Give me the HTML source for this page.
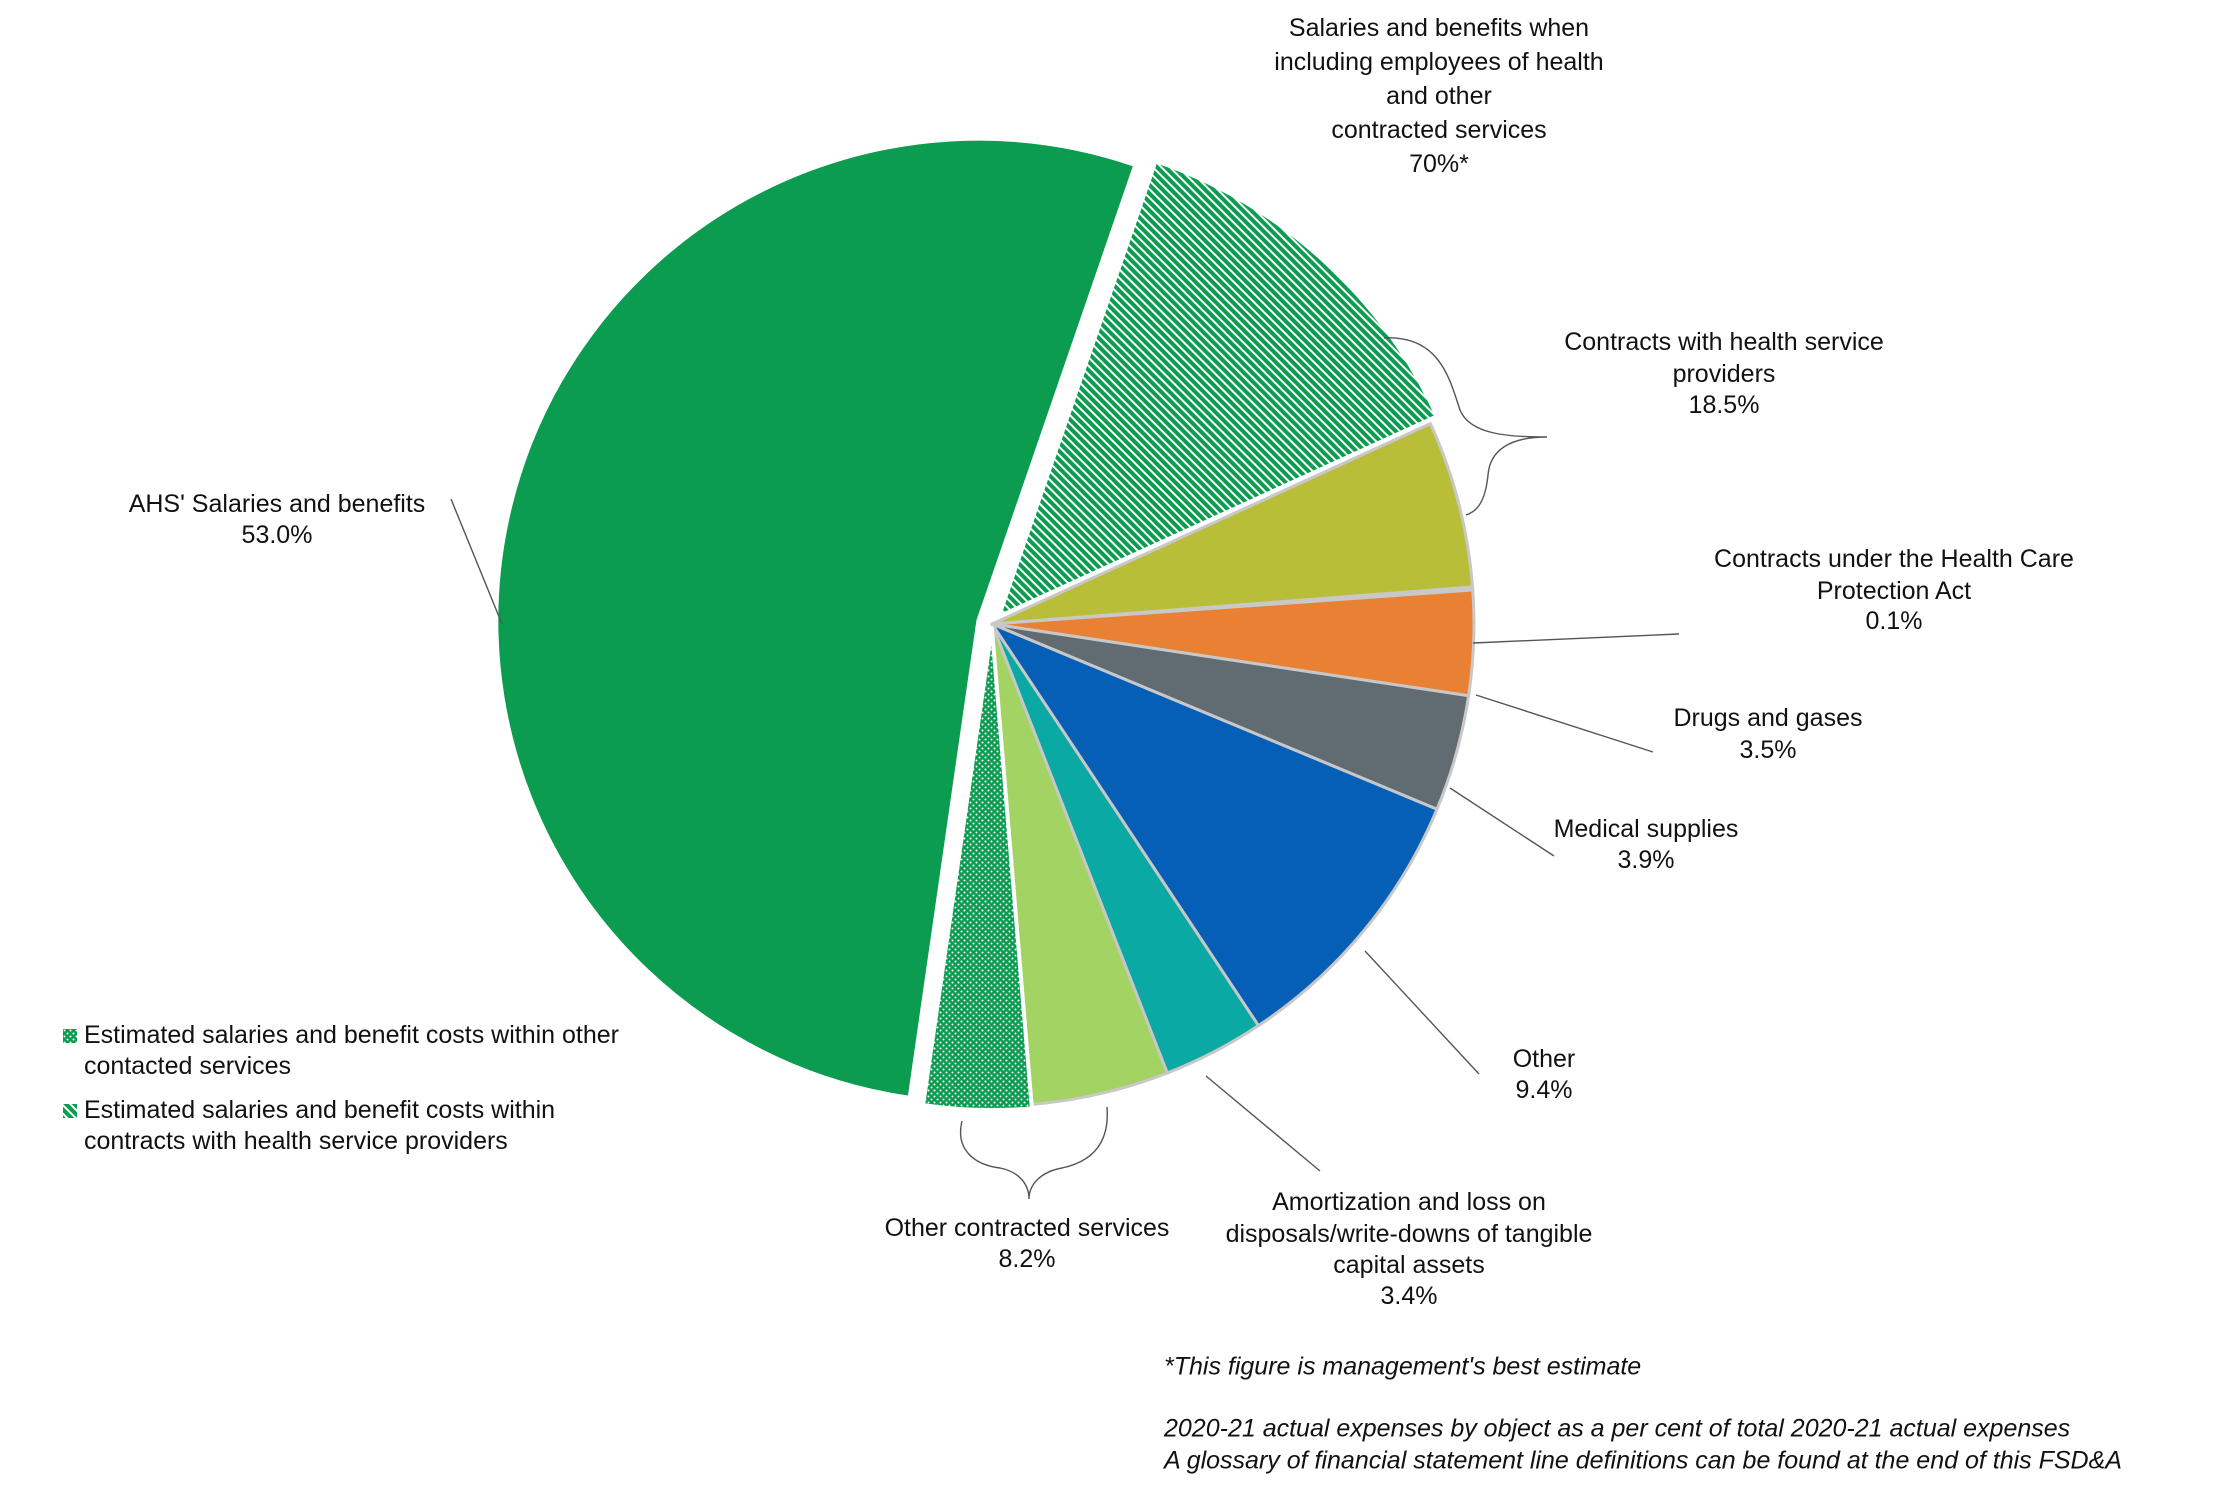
<!DOCTYPE html>
<html><head><meta charset="utf-8"><style>
body{margin:0;background:#fff;}
svg{display:block;font-family:"Liberation Sans",Arial,sans-serif;}
</style></head><body>
<svg id="chart" width="2214" height="1499" viewBox="0 0 2214 1499" xmlns="http://www.w3.org/2000/svg">
<defs>
<pattern id="hatch" patternUnits="userSpaceOnUse" width="6" height="6" patternTransform="rotate(-45)">
<rect width="6" height="6" fill="#0b9c50"/><rect width="2" height="6" fill="#ffffff"/>
</pattern>
<pattern id="dots" patternUnits="userSpaceOnUse" width="6" height="6">
<rect width="6" height="6" fill="#0b9c50"/><circle cx="1.5" cy="1.5" r="1" fill="#fff"/><circle cx="4.5" cy="4.5" r="1" fill="#fff"/>
</pattern>
</defs>
<g id="slices"></g>
<g id="annot" fill="none" stroke="#555" stroke-width="1.4">
<line x1="451" y1="499" x2="502" y2="624"/>
<line x1="1679" y1="634" x2="1473" y2="643"/>
<line x1="1653" y1="752" x2="1476" y2="695"/>
<line x1="1554" y1="856" x2="1450" y2="788"/>
<line x1="1479" y1="1074" x2="1365" y2="951"/>
<line x1="1320" y1="1171" x2="1206" y2="1076"/>
<path d="M1384,338 C1440,335 1450,380 1460,410 C1470,435 1510,437 1547,437 C1510,437 1490,450 1488,475 C1485,505 1475,512 1466,515"/>
<path d="M962,1121 C955,1150 975,1165 1000,1168 C1020,1172 1029,1185 1029,1199 C1029,1185 1040,1172 1062,1168 C1090,1162 1110,1145 1107,1107"/>
</g>
<g font-size="25" fill="#111" text-anchor="middle" dominant-baseline="middle">
<text><tspan x="1439" y="29">Salaries and benefits when</tspan><tspan x="1439" y="63">including employees of health</tspan><tspan x="1439" y="97">and other</tspan><tspan x="1439" y="131">contracted services</tspan><tspan x="1439" y="165">70%*</tspan></text>
<text><tspan x="1724" y="343">Contracts with  health service</tspan><tspan x="1724" y="375">providers</tspan><tspan x="1724" y="406">18.5%</tspan></text>
<text><tspan x="1894" y="560">Contracts under the Health Care</tspan><tspan x="1894" y="592">Protection Act</tspan><tspan x="1894" y="622">0.1%</tspan></text>
<text><tspan x="1768" y="719">Drugs and gases</tspan><tspan x="1768" y="751">3.5%</tspan></text>
<text><tspan x="1646" y="830">Medical supplies</tspan><tspan x="1646" y="861">3.9%</tspan></text>
<text><tspan x="1544" y="1060">Other</tspan><tspan x="1544" y="1091">9.4%</tspan></text>
<text><tspan x="1409" y="1203">Amortization  and loss on</tspan><tspan x="1409" y="1235">disposals/write-downs  of tangible</tspan><tspan x="1409" y="1266">capital assets</tspan><tspan x="1409" y="1297">3.4%</tspan></text>
<text><tspan x="1027" y="1229">Other contracted services</tspan><tspan x="1027" y="1260">8.2%</tspan></text>
<text><tspan x="277" y="505">AHS' Salaries and benefits</tspan><tspan x="277" y="536">53.0%</tspan></text>
</g>
<g font-size="25" fill="#111" dominant-baseline="middle">
<rect x="63" y="1029" width="14" height="14" fill="url(#dots)"/>
<text><tspan x="84" y="1036">Estimated salaries and benefit costs within other</tspan><tspan x="84" y="1067">contacted services</tspan></text>
<rect x="63" y="1104" width="14" height="14" fill="url(#hatch)"/>
<text><tspan x="84" y="1111">Estimated salaries and benefit costs within</tspan><tspan x="84" y="1142">contracts with health service providers</tspan></text>
</g>
<g font-size="25" font-style="italic" fill="#111" dominant-baseline="middle">
<text x="1164" y="1368">*This figure is management's best estimate</text>
<text x="1164" y="1430">2020-21 actual expenses by object as a per cent of total 2020-21 actual expenses</text>
<text x="1164" y="1462">A glossary of financial statement line definitions can be found at the end of this FSD&amp;A</text>
</g>
</svg>
<script>
const sliceNames = ["contracts-health-salaries","contracts-health-other","hcpa","drugs-gases","medical-supplies","other","amortization","light-contracted","other-contracted-salaries","ahs-salaries"];
const sliceValues = [12.9, 5.6, 0.1, 3.5, 3.9, 9.4, 3.4, 4.6, 3.6, 53.0];
const sliceFills = ["url(#hatch)","#b8be38","#a0a0a0","#e98134","#616b72","#065fb7","#0aa9a3","#a2d363","url(#dots)","#0b9c50"];
const sliceExplode = [10,0,0,0,0,0,0,0,4,14];
const cx = 992, cy = 624, R = 482, startDeg = 19;
const ns = "http://www.w3.org/2000/svg";
const g = document.getElementById("slices");
const total = sliceValues.reduce((a,b)=>a+b,0);
function pt(a, r, ox, oy){ const t=(a-90)*Math.PI/180; return [ox + r*Math.cos(t), oy + r*Math.sin(t)]; }
let a0 = startDeg;
sliceValues.forEach((v,i)=>{
  const sweep = v/total*360;
  const a1 = a0 + sweep;
  const mid = (a0+a1)/2;
  const [ox, oy] = pt(mid, sliceExplode[i], cx, cy);
  const p0 = pt(a0, R, ox, oy), p1 = pt(a1, R, ox, oy);
  const large = sweep > 180 ? 1 : 0;
  const p = document.createElementNS(ns, "path");
  p.setAttribute("d", `M${ox},${oy} L${p0[0]},${p0[1]} A${R},${R} 0 ${large} 1 ${p1[0]},${p1[1]} Z`);
  p.setAttribute("fill", sliceFills[i]);
  p.setAttribute("stroke", i===9 || i===0 || i===8 ? "#ffffff" : "#c8c8c8");
  p.setAttribute("stroke-width", i===9 || i===0 || i===8 ? "4" : "3");
  p.setAttribute("stroke-linejoin", "round");
  
  
  g.appendChild(p);
  a0 = a1;
});
</script>
</body></html>
